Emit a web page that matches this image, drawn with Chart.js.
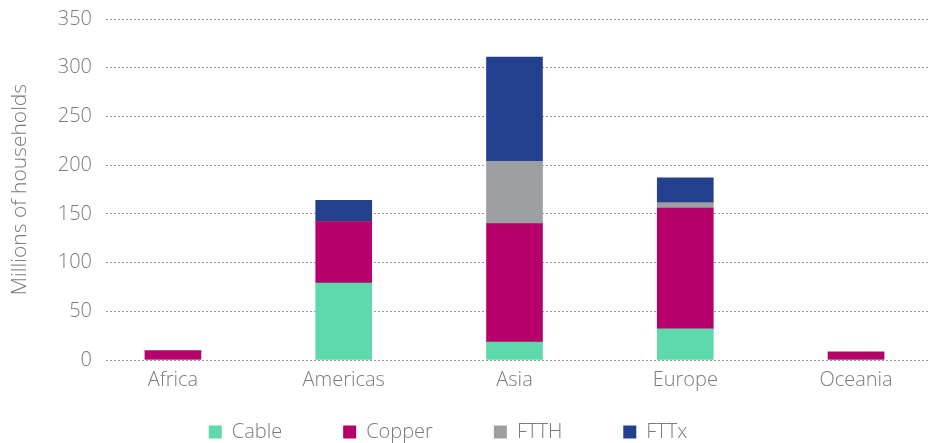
<!DOCTYPE html>
<html>
<head>
<meta charset="utf-8">
<script src="https://cdn.jsdelivr.net/npm/chart.js@4"></script>
<style>
  html, body { margin: 0; padding: 0; background: #fff; }
  #wrap { width: 930px; height: 443px; }
</style>
</head>
<body>
<div id="wrap"><canvas id="plot"></canvas></div>
<script>
const categories = ['Africa', 'Americas', 'Asia', 'Europe', 'Oceania'];
const cable = [0, 79, 18.5, 32, 0];
const copper = [9.3, 63, 121.5, 124, 8.2];
const ftth = [0, 0, 64, 5.5, 0];
const fttx = [0, 22, 107, 25.5, 0];
const yTicks = [0, 50, 100, 150, 200, 250, 300, 350];

const textColor = '#7b7b7b';
const fontFamily = '"Open Sans", "Liberation Sans", Arial, sans-serif';
const fontWeight = 300;
const legendPad = 61;
const legendHeight = 51;
const legendShiftY = 31;
const legendShiftX = -17;

function toPoints(values) {
  return values.map((v, i) => ({ x: i, y: v }));
}

// legend: wide gaps between items but a short box
const legendFit = {
  id: 'legendFit',
  afterInit(chart) {
    const lg = chart.legend;
    const fit = lg.fit;
    lg.fit = function () { fit.call(this); this.height = legendHeight; };
    const draw = lg._draw;
    lg._draw = function () {
      this.top -= legendShiftY; this.left += legendShiftX; this.right += legendShiftX;
      draw.call(this);
      this.top += legendShiftY; this.left -= legendShiftX; this.right -= legendShiftX;
    };
  }
};

const ctx = document.getElementById('plot').getContext('2d');

new Chart(ctx, {
  type: 'bar',
  data: {
    datasets: [
      { label: 'Cable', data: toPoints(cable), backgroundColor: '#5ed9ab' },
      { label: 'Copper', data: toPoints(copper), backgroundColor: '#b7006b' },
      { label: 'FTTH', data: toPoints(ftth), backgroundColor: '#9e9fa2' },
      { label: 'FTTx', data: toPoints(fttx), backgroundColor: '#22408e' }
    ]
  },
  plugins: [legendFit],
  options: {
    responsive: true,
    maintainAspectRatio: false,
    animation: false,
    barThickness: 56,
    layout: { padding: { top: 19, left: 0, right: 0, bottom: 0 } },
    scales: {
      x: {
        type: 'linear',
        stacked: true,
        offset: false,
        min: -0.392,
        max: 4.433,
        grid: { display: false },
        border: { display: false },
        afterBuildTicks: (axis) => { axis.ticks = categories.map((c, i) => ({ value: i })); },
        ticks: {
          color: textColor,
          font: { family: fontFamily, size: 20, weight: fontWeight },
          padding: 0,
          maxRotation: 0,
          autoSkip: false,
          callback: (v) => categories[v]
        }
      },
      y: {
        stacked: true,
        min: 0,
        max: 350,
        afterBuildTicks: (axis) => { axis.ticks = yTicks.map(v => ({ value: v })); },
        afterFit: (axis) => { axis.width = 106; axis.paddingTop = 0; axis.paddingBottom = 0; },
        grid: { color: '#9a9a9a', lineWidth: 1, drawTicks: false },
        border: { display: false, dash: [2, 2] },
        ticks: {
          color: textColor,
          font: { family: fontFamily, size: 20, weight: fontWeight },
          padding: 14
        },
        title: {
          display: true,
          text: 'Millions of households',
          color: textColor,
          font: { family: fontFamily, size: 21, weight: fontWeight },
          padding: { top: 7, bottom: 0 }
        }
      }
    },
    plugins: {
      tooltip: { enabled: false },
      legend: {
        position: 'bottom',
        labels: {
          boxWidth: 13,
          boxHeight: 13,
          padding: legendPad,
          color: textColor,
          font: { family: fontFamily, size: 20, weight: fontWeight }
        }
      }
    }
  }
});
</script>
</body>
</html>
